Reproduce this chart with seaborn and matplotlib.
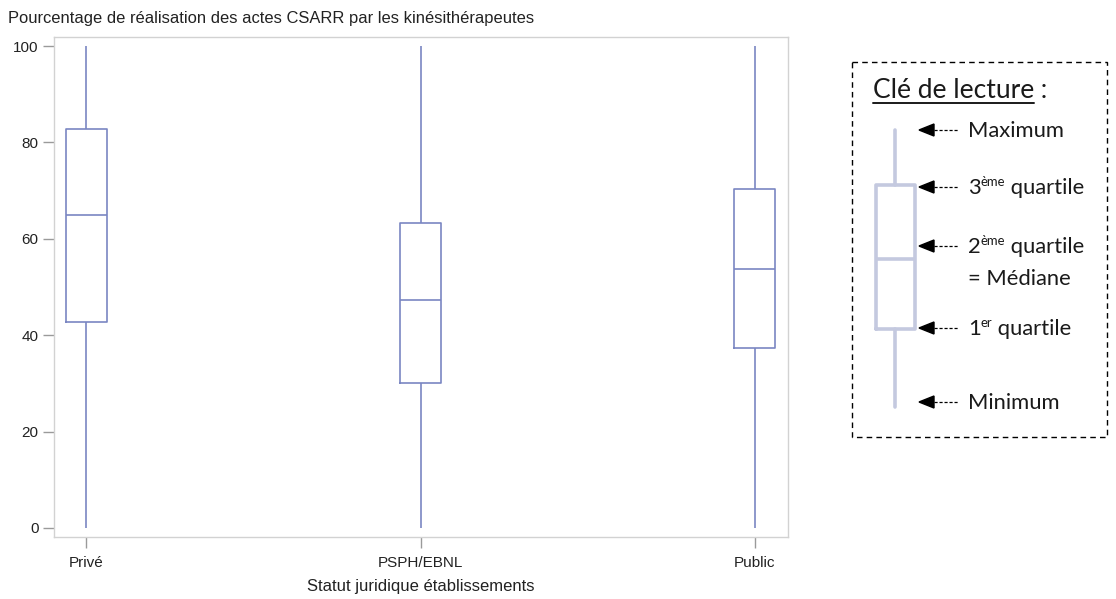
import matplotlib
matplotlib.use("Agg")
import matplotlib.pyplot as plt
import seaborn as sns
import pandas as pd
from matplotlib.patches import Rectangle, Polygon

# Five-number summaries per legal status (min, Q1, median, Q3, max)
categories = ["Privé", "PSPH/EBNL", "Public"]
prive = [0, 42.8, 64.9, 82.8, 100]
psph = [0, 30.1, 47.3, 63.3, 100]
public = [0, 37.4, 53.7, 70.4, 100]
yticks = [0, 20, 40, 60, 80, 100]

title = "Pourcentage de réalisation des actes CSARR par les kinésithérapeutes"
xlabel = "Statut juridique établissements"

sns.set_theme(style="white")
plt.rcParams["font.family"] = ["Liberation Sans", "DejaVu Sans"]

df = pd.DataFrame({
    "statut": [categories[0]] * 5 + [categories[1]] * 5 + [categories[2]] * 5,
    "pct": prive + psph + public,
})

W, H = 1116, 599
fig = plt.figure(figsize=(W / 100, H / 100), dpi=100)

box_col = "#7a86c2"
frame_col = "#d2d2d2"
txt_col = "#222222"

ax = fig.add_axes([54 / W, 1 - 537 / H, 734 / W, 500 / H])
sns.boxplot(data=df, x="statut", y="pct", order=categories, whis=(0, 100),
            fill=False, color=box_col, width=0.123, linewidth=1.2,
            showcaps=False, ax=ax)
ax.set_xlim(-0.097, 2.099)
ax.set_ylim(-1.87, 101.87)
ax.set_yticks(yticks)
for s in ax.spines.values():
    s.set_color(frame_col)
    s.set_linewidth(1.0)
ax.tick_params(axis="both", which="both", length=8, width=1, color="#9a9a9a",
               labelsize=11, labelcolor=txt_col, direction="out",
               left=True, bottom=True, pad=3)
ax.tick_params(axis="x", pad=5.5)
ax.set_xlabel(xlabel, fontsize=12, color=txt_col, labelpad=7)
ax.set_ylabel("")
fig.text(8 / W, 1 - 18 / H, title, fontsize=11.9, color=txt_col,
         ha="left", va="center")

# ---- reading key (pixel coordinate overlay) ----
key = fig.add_axes([0, 0, 1, 1], facecolor="none")
key.set_xlim(0, W)
key.set_ylim(H, 0)
key.axis("off")

key.add_patch(Rectangle((852, 62), 255, 375, fill=False, edgecolor="black",
                        linewidth=1.0, linestyle=(0, (4, 3))))

kfont = ["Lato", "DejaVu Sans"]
kcol = "#1a1a1a"

# Key box drawn from an illustrative summary
key_stats = [dict(whislo=407, q1=329, med=259, q3=185, whishi=130)]
kc = "#c4c9df"
key.bxp(key_stats, positions=[895], widths=[39], showfliers=False,
        showcaps=False, manage_ticks=False,
        boxprops=dict(color=kc, linewidth=2.6),
        medianprops=dict(color=kc, linewidth=2.6),
        whiskerprops=dict(color=kc, linewidth=2.6))

fig.canvas.draw()
renderer = fig.canvas.get_renderer()


def rich_line(x, y, parts, size):
    """Draw text pieces side by side; a piece flagged as superscript is smaller and raised."""
    cur = x
    for txt, sup in parts:
        fs = size * 0.6 if sup else size
        yy = y - size * 0.5 if sup else y
        t = key.text(cur, yy, txt, fontsize=fs, family=kfont, color=kcol,
                     ha="left", va="baseline")
        bb = t.get_window_extent(renderer)
        cur += bb.width
    return cur


# Title with underline
t = key.text(873, 98, "Clé de lecture", fontsize=19, family=kfont, color=kcol,
             ha="left", va="baseline")
bb = t.get_window_extent(renderer)
key.plot([873, 873 + bb.width], [103, 103], color=kcol, linewidth=1.4)
key.text(873 + bb.width, 98, " :", fontsize=19, family=kfont, color=kcol,
         ha="left", va="baseline")

ks = 15.8
rows = [
    (130, [("Maximum", False)]),
    (187, [("3", False), ("ème", True), (" quartile", False)]),
    (246, [("2", False), ("ème", True), (" quartile", False)]),
    (328, [("1", False), ("er", True), (" quartile", False)]),
    (402, [("Minimum", False)]),
]
for yc, parts in rows:
    key.add_patch(Polygon([[919, yc], [934, yc - 6], [934, yc + 6]],
                          closed=True, color="black"))
    key.plot([934, 958], [yc, yc], color="black", linewidth=0.9,
             linestyle=(0, (2.5, 1.5)))
    rich_line(968, yc + 7, parts, ks)
rich_line(968, 278 + 7, [("= Médiane", False)], ks)

fig.savefig("out.png", dpi=100)
